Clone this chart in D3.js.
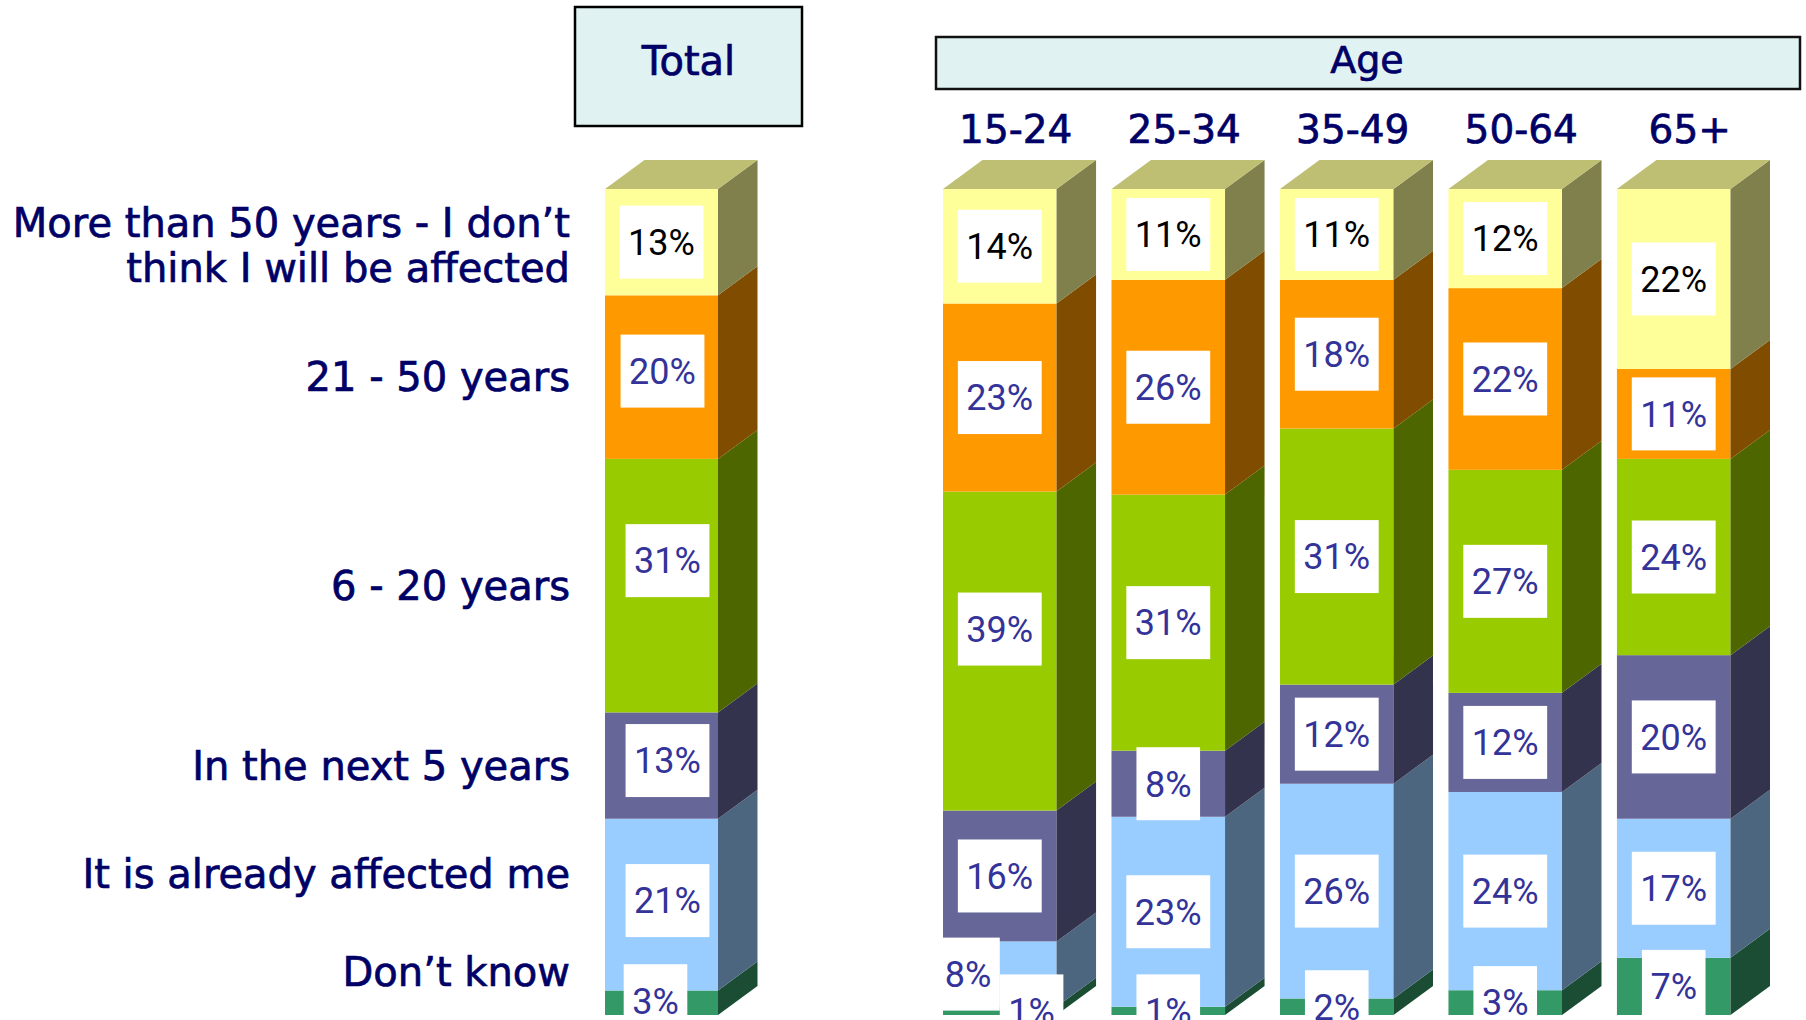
<!DOCTYPE html>
<html><head><meta charset="utf-8">
<script src="https://cdn.jsdelivr.net/npm/d3@7"></script>
<style>body{margin:0;background:#fff;overflow:hidden}</style>
</head><body><svg id="chart" width="1806" height="1020"></svg>
<script>
// ---------- data ----------
const groups = ["Total", "15-24", "25-34", "35-49", "50-64", "65+"];
const ageGroups = ["15-24", "25-34", "35-49", "50-64", "65+"];
// categories, top to bottom
const categories = [
  "More than 50 years - I don\u2019t\nthink I will be affected",
  "21 - 50 years",
  "6 - 20 years",
  "In the next 5 years",
  "It is already affected me",
  "Don\u2019t know"
];
// values per group (Total, 15-24, 25-34, 35-49, 50-64, 65+)
const more50   = [13, 14, 11, 11, 12, 22];
const yrs21_50 = [20, 23, 26, 18, 22, 11];
const yrs6_20  = [31, 39, 31, 31, 27, 24];
const next5    = [13, 16,  8, 12, 12, 20];
const already  = [21,  8, 23, 26, 24, 17];
const dontKnow = [ 3,  1,  1,  2,  3,  7];

const seriesKeys = ["dontKnow", "already", "next5", "yrs6_20", "yrs21_50", "more50"]; // bottom -> top
const seriesData = {dontKnow, already, next5, yrs6_20, yrs21_50, more50};
const seriesCat = {more50: 0, yrs21_50: 1, yrs6_20: 2, next5: 3, already: 4, dontKnow: 5};
const frontColors = {
  more50: "#FFFF99", yrs21_50: "#FF9900", yrs6_20: "#99CC00",
  next5: "#666699", already: "#99CCFF", dontKnow: "#339966"
};

// ---------- layout ----------
const svg = d3.select("#chart");
const NAVY = "#000066", VAL = "#333399";
const dx = 39.5, dy = 29;

// hand placement of a few value labels, as in the original slide (pixels)
const labelNudge = {
  "Total|yrs21_50": [1, -6], "Total|yrs6_20": [6, -25], "Total|next5": [6, -5],
  "Total|already": [6, -4], "Total|dontKnow": [-6, -2], "15-24|yrs6_20": [0, -22]
};

const table = groups.map((g, i) => {
  const row = {group: g};
  seriesKeys.forEach(k => row[k] = seriesData[k][i]);
  return row;
});
const stacked = d3.stack().keys(seriesKeys).offset(d3.stackOffsetExpand)(table);

const y = d3.scaleLinear().domain([0, 1]).range([1015, 189]);
const xTotal = d3.scaleBand().domain(["Total"]).range([605, 718]);
const xAge = d3.scaleBand().domain(ageGroups).range([943, 1730.5]).paddingInner(0.326);
const xPos = g => g === "Total" ? xTotal(g) : xAge(g);
const bwOf = g => g === "Total" ? xTotal.bandwidth() : xAge.bandwidth();

function shade(c, f) {
  const r = d3.rgb(c);
  return d3.rgb(r.r * f, r.g * f, r.b * f).formatHex();
}

// ---------- bars ----------
const barsG = svg.append("g");
stacked.forEach((layer, li) => {
  const key = layer.key;
  layer.forEach(d => {
    const g = d.data.group;
    const x0 = xPos(g), w = bwOf(g);
    const yt = y(d[1]), yb = y(d[0]);
    barsG.append("rect").attr("x", x0).attr("y", yt).attr("width", w).attr("height", Math.max(0, yb - yt))
      .attr("fill", frontColors[key]);
    barsG.append("polygon")
      .attr("points", [[x0 + w, yt], [x0 + w + dx, yt - dy], [x0 + w + dx, yb - dy], [x0 + w, yb]].join(" "))
      .attr("fill", shade(frontColors[key], 0.5));
    if (li === stacked.length - 1) {
      barsG.append("polygon")
        .attr("points", [[x0, yt], [x0 + dx, yt - dy], [x0 + w + dx, yt - dy], [x0 + w, yt]].join(" "))
        .attr("fill", shade(frontColors[key], 0.75));
    }
  });
});

// ---------- value labels ----------
const boxH = 73;
const labelsG = svg.append("g");
groups.forEach((g, gi) => {
  const items = [];
  for (let li = stacked.length - 1; li >= 0; li--) {
    const d = stacked[li][gi];
    items.push({key: stacked[li].key, v: seriesData[stacked[li].key][gi], cy: (y(d[0]) + y(d[1])) / 2, side: 0});
  }
  for (let i = 0; i < items.length - 1; i++) {
    if (items[i + 1].cy - items[i].cy < boxH * 0.6) { items[i].side = -1; items[i + 1].side = 1; }
  }
  const cx = xPos(g) + bwOf(g) / 2;
  items.forEach(it => {
    const nd = labelNudge[g + "|" + it.key] || [0, 0];
    const lg = labelsG.append("g");
    const rect = lg.append("rect").attr("fill", "#fff");
    const t = lg.append("text").text(it.v + "%")
      .attr("text-anchor", "middle")
      .attr("font-family", "Roboto, 'Noto Sans', sans-serif")
      .attr("font-size", 36)
      .attr("fill", it.key === "more50" ? "#000" : VAL)
      .attr("y", 12.8);
    const tw = t.node().getComputedTextLength();
    const bw = tw + 17;
    rect.attr("x", -bw / 2).attr("y", -boxH / 2).attr("width", bw).attr("height", boxH);
    lg.attr("transform", `translate(${cx + it.side * bw / 2 + nd[0]},${it.cy + nd[1]})`);
  });
});

// ---------- headers ----------
const headFont = g => g.attr("font-family", "Tahoma, 'DejaVu Sans', sans-serif").attr("fill", NAVY)
  .attr("stroke", NAVY).attr("stroke-width", 0.7);
svg.append("rect").attr("x", 575).attr("y", 7).attr("width", 227).attr("height", 119)
  .attr("fill", "#E0F2F2").attr("stroke", "#000").attr("stroke-width", 2.5);
svg.append("text").text("Total").attr("x", 688.5).attr("y", 75).attr("text-anchor", "middle")
  .attr("font-size", 40).call(headFont);

svg.append("rect").attr("x", 936).attr("y", 37).attr("width", 864).attr("height", 52)
  .attr("fill", "#E0F2F2").attr("stroke", "#111").attr("stroke-width", 2.5);
svg.append("text").text("Age").attr("x", 1367).attr("y", 72.5).attr("text-anchor", "middle")
  .attr("font-size", 38).call(headFont);

svg.append("g").selectAll("text").data(ageGroups).join("text")
  .text(d => d)
  .attr("x", d => xAge(d) + xAge.bandwidth() / 2 + 16)
  .attr("y", 143)
  .attr("text-anchor", "middle")
  .attr("font-size", 39).call(headFont);

// ---------- category labels (left) ----------
const totalIdx = 0;
const catCenters = categories.map(() => 0);
stacked.forEach(layer => {
  const d = layer[totalIdx];
  catCenters[seriesCat[layer.key]] = (y(d[0]) + y(d[1])) / 2;
});
// keep labels apart and inside the chart, bottom-up
let limit = y(0) - 43;
for (let i = categories.length - 1; i >= 0; i--) {
  catCenters[i] = Math.min(catCenters[i], limit);
  limit = catCenters[i] - 98;
}
const fs = 40, lh = 45;
categories.forEach((c, i) => {
  const lines = c.split("\n");
  const t = svg.append("text").attr("text-anchor", "end")
    .attr("font-size", fs).call(headFont);
  const top = catCenters[i] - (lines.length - 1) * lh / 2 + fs * 0.36 + (lines.length > 1 ? 3 : 0);
  lines.forEach((ln, j) => t.append("tspan").attr("x", 570).attr("y", top + j * lh).text(ln));
});
</script></body></html>
